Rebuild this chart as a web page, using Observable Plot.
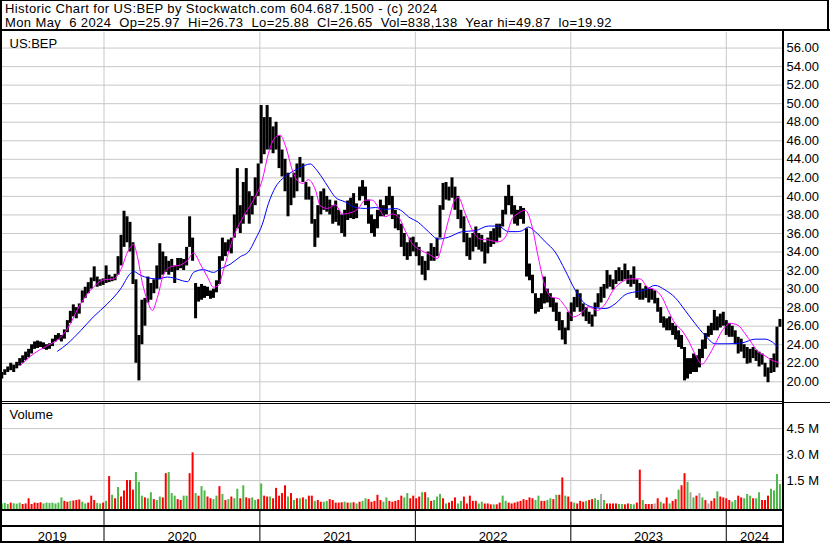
<!DOCTYPE html>
<html><head><meta charset="utf-8">
<script src="https://cdn.jsdelivr.net/npm/d3@7"></script>
<script src="https://cdn.jsdelivr.net/npm/@observablehq/plot@0.6"></script>
<style>
body{margin:0;background:#fff;}
#chart{position:relative;width:830px;height:543px;overflow:hidden;font-family:"Liberation Sans",Arial,sans-serif;color:#000;background:#fff;}
.ln{position:absolute;background:#000;}
.tx{position:absolute;font-size:13px;line-height:13px;letter-spacing:0.39px;white-space:pre;color:#000;}
.pl{position:absolute;left:0;}
.pl svg{max-width:none;}
</style></head>
<body><div id="chart"></div>
<script>
// ---------- data ----------
const title1 = "Historic Chart for US:BEP by Stockwatch.com 604.687.1500 - (c) 2024";
const title2 = "Mon May  6 2024  Op=25.97  Hi=26.73  Lo=25.88  Cl=26.65  Vol=838,138  Year hi=49.87  lo=19.92";
const symbol = "US:BEP";
const yearLabels = ["2019","2020","2021","2022","2023","2024"];
const priceTicks = [20,22,24,26,28,30,32,34,36,38,40,42,44,46,48,50,52,54,56];
const volTicks = [1.5,3.0,4.5];

// weekly low / high (one value per week, from the week of 2019-05-06 to 2024-05-06)
const lo = [20.3,20.7,21.0,21.2,21.0,21.4,21.7,22.0,22.3,22.6,
 23.0,23.5,23.6,23.7,23.5,23.4,23.5,23.8,24.3,24.5,
 24.3,24.6,25.3,26.3,27.0,26.8,27.3,28.5,29.0,29.5,
 30.0,30.8,30.2,30.3,30.4,30.6,30.7,30.8,30.9,31.5,
 32.5,34.5,35.0,34.0,30.5,22.0,20.1,24.0,26.0,28.5,
 28.8,29.5,30.0,31.0,31.5,31.8,31.5,31.8,30.6,32.0,
 32.2,32.0,32.5,34.5,33.0,26.8,28.6,28.8,29.0,29.2,
 28.9,29.0,29.6,30.5,33.0,33.5,34.0,33.8,35.5,36.5,
 36.0,37.0,38.0,37.0,38.0,39.0,40.0,43.5,44.5,45.0,
 45.0,44.6,45.0,43.0,42.1,40.5,37.8,39.0,39.8,40.5,
 42.0,41.5,39.6,39.6,37.0,34.5,35.5,38.0,38.5,38.3,
 38.0,37.0,37.2,36.8,36.0,35.6,37.4,37.6,37.5,37.6,
 39.5,40.0,39.0,37.0,36.0,35.6,36.5,37.8,37.8,38.0,
 39.0,37.5,36.5,36.3,34.5,33.5,33.1,33.5,34.0,33.5,
 32.5,31.5,30.9,32.0,33.0,33.0,33.5,35.5,38.5,39.6,
 39.5,39.8,38.5,37.5,36.5,35.0,33.5,33.1,34.0,34.5,
 34.2,34.0,32.7,33.8,34.5,34.8,35.0,35.5,36.7,38.0,
 39.0,38.0,37.0,36.8,37.5,37.0,31.3,30.9,29.5,27.3,
 27.5,27.8,28.4,28.5,28.0,27.5,26.5,25.5,24.5,24.0,
 25.5,26.5,27.5,28.0,27.5,27.0,26.5,26.2,25.9,27.0,
 28.0,28.5,29.0,30.0,30.2,29.9,30.5,30.8,30.8,31.0,
 30.5,30.2,30.5,29.0,28.8,28.8,29.0,28.5,28.8,28.4,
 27.5,26.3,25.8,25.5,25.5,25.0,24.5,23.7,23.5,20.1,
 20.3,20.8,21.0,21.0,21.5,22.5,23.5,24.8,25.0,25.5,
 25.5,25.8,26.0,25.0,24.8,24.8,24.0,23.0,23.2,22.5,
 21.9,22.0,22.5,22.2,21.6,21.8,20.5,19.9,20.9,21.0,
 21.5,25.88];
const hi = [21.0,21.3,21.6,22.0,21.8,22.1,22.5,22.8,23.2,23.5,
 24.0,24.3,24.4,24.3,24.2,24.0,24.1,24.6,25.0,25.2,
 25.0,25.6,26.6,27.6,28.3,28.0,28.4,29.8,30.2,30.7,
 31.2,32.4,31.3,31.0,31.1,32.5,31.5,31.3,31.6,33.5,
 35.8,38.4,37.8,37.2,35.0,31.0,25.0,28.8,29.0,31.3,
 30.6,31.0,32.5,34.9,34.0,33.5,33.0,33.2,32.5,33.3,
 33.3,33.2,34.5,37.8,35.5,30.6,30.2,30.5,30.3,30.2,
 29.8,30.0,30.9,33.5,35.5,35.0,35.3,35.5,38.0,43.0,
 39.0,41.5,43.0,40.5,40.0,42.0,43.5,49.8,48.5,49.8,
 48.5,47.5,48.0,46.5,45.0,44.0,42.5,42.0,42.5,43.5,
 44.2,43.5,41.5,41.0,40.0,37.5,39.0,40.5,40.8,40.0,
 39.6,39.0,39.5,38.5,38.0,38.5,39.5,39.8,40.3,39.2,
 41.0,41.7,41.0,39.6,38.0,37.5,38.5,39.6,39.0,40.0,
 41.0,40.0,38.5,38.0,37.0,36.0,35.0,35.5,35.6,35.0,
 34.5,33.5,33.0,34.0,34.9,34.5,35.5,39.0,41.4,41.5,
 41.0,42.0,41.0,40.0,38.5,37.8,36.0,35.5,36.0,36.7,
 36.0,35.8,35.0,35.5,36.2,36.5,37.0,37.0,38.5,40.0,
 41.2,40.0,39.0,38.5,38.9,38.7,36.5,32.7,31.5,29.5,
 29.0,29.5,31.3,30.0,29.5,29.0,28.5,27.5,26.6,25.8,
 27.5,28.5,29.1,29.9,29.5,28.4,28.0,27.5,27.2,28.5,
 29.5,30.2,30.5,32.0,31.5,31.0,32.0,32.3,32.0,32.7,
 32.0,31.5,32.4,31.0,30.6,30.0,30.3,30.0,30.0,29.8,
 29.0,28.0,27.0,26.8,27.0,26.3,26.0,25.5,25.0,23.7,
 22.5,22.5,23.0,22.8,23.5,24.5,25.2,26.0,26.3,27.7,
 27.0,27.3,27.5,26.6,26.3,26.0,25.5,24.8,24.6,24.0,
 23.7,23.5,23.7,23.4,23.2,23.0,22.0,21.5,22.5,23.0,
 25.9,26.73];

// weekly volume (millions) and bar colour: g = up, r = down, n = unchanged
const vol = [.15,.18,.12,.20,.16,.14,.20,.12,.15,.45,
 .12,.20,.18,.22,.15,.20,.18,.20,.15,.20,
 .50,.30,.25,.30,.32,.35,.38,.25,.15,.20,
 .60,.35,.18,.15,.20,.30,1.73,.65,.45,1.10,
 .55,.90,1.50,1.50,.95,1.96,1.40,.60,.50,.45,
 .80,.40,.35,.55,.50,1.90,1.96,.75,.60,.40,
 .35,.60,.60,1.90,3.10,.75,.60,1.15,.90,.55,
 .45,.40,.60,1.15,.70,.35,.40,.55,.45,1.00,
 .45,1.20,.50,.45,.50,.35,.40,1.30,.60,.55,
 .55,.45,1.05,.60,.75,1.20,.55,.75,.35,.45,
 .45,.50,.40,.60,.60,.30,.35,.25,.25,.30,
 .40,.35,.20,.20,.22,.25,.20,.20,.22,.15,
 .25,.30,.45,.40,.25,.30,.65,.35,.25,.50,
 .30,.25,.30,.35,.60,.50,.75,.45,.60,.45,
 .55,.80,.80,.50,.30,.35,.55,.70,.45,.15,
 .20,.30,.50,.15,.30,.55,.15,.60,.30,.30,
 .15,.25,.15,.15,.10,.10,.10,.20,.60,.30,
 .20,.15,.20,.25,.30,.40,.35,.50,.45,.35,
 .60,.30,.30,.35,.45,.40,.65,.65,1.65,.60,
 .55,.25,.20,.15,.30,.25,.30,.35,.40,.45,
 .35,.70,.35,.15,.15,.15,.15,.12,.12,.10,
 .15,.12,.10,.20,2.10,.35,.12,.12,.12,.15,
 .45,.25,.15,.50,.15,.30,.40,.95,1.20,1.90,
 1.40,.80,.50,.60,.75,.50,.35,.15,.30,.45,
 .85,.55,.50,.45,.35,.25,.35,.60,.50,.45,
 .70,.60,.45,.45,.80,.35,.35,.60,1.00,.90,
 1.85,1.27];
const volDir = ("gggrgggrrr"+"rrrrgggggg"+"grrgrrrggr"+"rrggrgrgrg"+"rrrrrgggrg"+
 "grggrrgggr"+"rggrrgrggr"+"rggrgrgrgg"+"rgrrggrgrr"+"grrrrrgrgr"+
 "grgrrgrrgg"+"rrrrrgrgrg"+"rggrrrrrgg"+"rrrrrggrrr"+"rgrgrgggrg"+
 "rrrggrrrrr"+"ggrrrgrrgg"+"rrrrrrrrrg"+"grrggrgrrg"+"rrgrrrgrrg"+
 "gngrrrrggr"+"rggrrgrrrn"+"rgrrgrrgrr"+"gngrngrnrr"+"grrrrggrrg"+
 "ggrggrrrgg"+"gg").split("");

// moving averages (position in weeks from the first week, value)
const ma50Week = [6.3,10.6,15.3,19,22,26.4,30.7,34.1,37.5,39.8,42.5,44.2,45.5,47.2,48.8,50.5,52.2,54.2,56.6,59.9,62.3,64.3,66.6,69,71,72.7,74.3,77.7,81,84.4,87.4,89.4,91.8,93.4,95.1,97.5,99.1,101.1,102.8,105.2,106.8,109.2,111.9,114.2,117.6,119.6,121.9,124.3,126.3,128.6,131,133,135.3,137.7,140.4,143.1,146.1,147.8,149.8,152.1,153.1,155.5,158.1,160.5,163.2,166.5,168.9,171.2,172.9,175.6,177.9,179.9,182.3,184.6,186.6,189,191.7,194,196.7,199.7,202.4,205.1,208.1,210.8,214.1,216.5,219.1,221.5,223.5,225.8,228.2,230.2,232.5,234.9,236.9,239.3,241.6,244.3,246.9,249.3,251.7,253.7,256,258.4,260.4];
const ma50 = [21.8,23.0,23.9,24.6,25.7,28.4,30.2,31.0,31.1,32.0,34.2,34.8,33.5,30.6,28.8,27.7,29.1,31.5,32.4,32.6,33.1,33.9,32.7,31.3,30.2,30.4,32.0,35.6,37.8,39.6,41.8,44.6,46.4,46.6,45.5,42.8,41.7,41.4,41.8,40.7,39.0,38.7,39.1,38.1,38.3,38.7,39.6,39.6,38.8,37.8,38.1,37.8,36.3,34.9,34.2,33.8,33.3,34.9,37.4,39.7,39.9,38.1,36.2,35.4,35.3,35.1,35.6,37.6,38.1,38.5,36.7,33.5,30.2,29.1,29.0,28.1,27.0,27.3,28.1,27.7,28.4,29.9,30.8,31.1,31.1,30.2,29.9,29.1,27.7,26.3,25.5,24.5,23.0,21.9,22.7,24.1,25.5,26.3,26.1,25.2,24.1,23.2,22.8,22.3,22.1];
const ma200Week = [18.7,22,26.4,30.7,35.4,39.8,43.2,44.2,46.5,49.2,52.2,55.6,57.6,60.6,62.3,64.3,67.6,71,73.3,76.7,80,82.7,85.1,87.4,89.4,91.8,94.1,96.1,99.5,103.5,105.2,107.5,109.5,111.9,115.2,118.6,121.9,125.3,128.6,132,134.3,136.4,139.7,143.1,146.4,149.8,154.5,158.8,163.2,166.5,169.9,172.9,174.6,176.6,178.9,182.3,185.6,189,192.3,195.7,199,202.4,205.7,209.1,212.4,215.8,219.1,222.5,225.8,229.2,232.5,235.9,239.3,243.6,248.3,252.7,256,258.4,260.4];
const ma200 = [23.3,24.1,25.5,27.0,28.4,30.0,31.7,31.9,31.5,31.2,31.1,31.3,31.2,30.9,30.8,31.8,32.1,31.8,32.2,32.7,33.5,34.0,35.4,37.0,39.2,41.0,41.9,42.4,43.0,43.5,43.0,42.0,41.0,39.9,39.4,38.8,38.7,38.8,38.6,38.7,38.4,37.8,37.2,36.2,35.4,35.6,36.2,36.3,36.8,36.8,36.2,36.2,36.3,36.7,36.2,35.1,34.0,32.0,29.9,28.4,28.0,27.9,28.4,29.4,29.7,29.9,30.4,29.9,29.1,27.7,26.3,25.0,24.1,24.1,24.2,24.6,24.6,24.3,23.7];

// ---------- build ----------
const FONT = '"Liberation Sans", Arial, sans-serif';
const chart = document.getElementById("chart");
const xDomain = [new Date("2019-05-03T00:00Z"), new Date("2024-05-12T00:00Z")];
const weeks = d3.utcMonday.range(new Date("2019-05-06T00:00Z"), new Date("2024-05-07T00:00Z"));
const rows = weeks.map((d, i) => ({date: d, lo: lo[i], hi: hi[i], vol: vol[i], dir: volDir[i]}));
const wk = w => new Date(+weeks[0] + w * 7 * 864e5);
const ma50Rows = ma50Week.map((w, i) => ({date: wk(w), v: ma50[i]}));
const ma200Rows = ma200Week.map((w, i) => ({date: wk(w), v: ma200[i]}));
const yearStarts = yearLabels.slice(1).map(y => new Date(Date.UTC(+y, 0, 1)));
const yearMid = yearLabels.map(y => {
  const a = Math.max(+xDomain[0], Date.UTC(+y, 0, 1));
  const b = Math.min(+xDomain[1], Date.UTC(+y + 1, 0, 1));
  return {date: new Date((a + b) / 2), label: y};
});
const volColor = {g: "#4cb848", r: "#ff0000", n: "#a8a8a8"};
const baseStyle = {fontFamily: FONT, fontSize: "13px", background: "transparent", color: "#000", overflow: "visible"};

function place(node, top) {
  const d = document.createElement("div");
  d.className = "pl"; d.style.top = top + "px";
  d.appendChild(node); chart.appendChild(d);
}
function line(x, y, w, h) {
  const d = document.createElement("div");
  d.className = "ln";
  Object.assign(d.style, {left: x + "px", top: y + "px", width: w + "px", height: h + "px"});
  chart.appendChild(d);
}
function text(s, x, y) {
  const d = document.createElement("div");
  d.className = "tx"; d.textContent = s;
  Object.assign(d.style, {left: x + "px", top: y + "px"});
  chart.appendChild(d);
}

// price panel
place(Plot.plot({
  width: 830, height: 369, marginLeft: 0, marginRight: 48, marginTop: 0, marginBottom: 0,
  style: baseStyle,
  x: {type: "utc", domain: xDomain, axis: null},
  y: {domain: [17.875, 57.68], axis: "right", ticks: priceTicks, tickSize: 0, tickPadding: 4,
      tickFormat: d => d.toFixed(2), label: null},
  marks: [
    Plot.ruleY(priceTicks, {stroke: "#c8c8c8"}),
    Plot.ruleX(yearStarts, {stroke: "#c8c8c8"}),
    Plot.ruleX(rows, {x: "date", y1: "lo", y2: "hi", stroke: "#000", strokeWidth: 3}),
    Plot.line(ma200Rows, {x: "date", y: "v", stroke: "#0000ff", strokeWidth: 1, curve: "monotone-x"}),
    Plot.line(ma50Rows, {x: "date", y: "v", stroke: "#ff00ff", strokeWidth: 1, curve: "monotone-x"}),
    Plot.text([symbol], {frameAnchor: "top-left", dx: 9, dy: 15, lineAnchor: "bottom", textAnchor: "start", fill: "#000"})
  ]
}), 32);

// volume panel
place(Plot.plot({
  width: 830, height: 105, marginLeft: 0, marginRight: 48, marginTop: 0, marginBottom: 0,
  style: baseStyle,
  x: {type: "utc", domain: xDomain, axis: null},
  y: {domain: [-0.17, 5.89], axis: "right", ticks: volTicks, tickSize: 0, tickPadding: 4,
      tickFormat: d => d.toFixed(1) + " M", label: null},
  marks: [
    Plot.ruleY(volTicks, {stroke: "#c8c8c8"}),
    Plot.ruleX(yearStarts, {stroke: "#c8c8c8"}),
    Plot.ruleX(rows, {x: "date", y1: -0.17, y2: "vol", stroke: d => volColor[d.dir], strokeWidth: 2}),
    Plot.text(["Volume"], {frameAnchor: "top-left", dx: 9, dy: 14, lineAnchor: "bottom", textAnchor: "start", fill: "#000"})
  ]
}), 404);

// time axis strip
place(Plot.plot({
  width: 830, height: 32, marginLeft: 0, marginRight: 48, marginTop: 0, marginBottom: 0,
  style: baseStyle,
  x: {type: "utc", domain: xDomain, axis: null},
  marks: [
    Plot.ruleX(yearStarts, {stroke: "#000"}),
    Plot.text(yearMid, {x: "date", text: "label", frameAnchor: "bottom", dy: -3, lineAnchor: "bottom", fill: "#000"})
  ]
}), 511);

// header and frame lines
text(title1, 5, 1.5);
text(title2, 5, 16);
line(0, 0, 829, 1);       // header top
line(827, 0, 2, 31);      // header right
line(0, 29, 830, 2);      // header bottom
line(0, 0, 2, 543);       // left border
line(782, 31, 2, 512);    // right axis separator
line(0, 401, 782, 1);     // price panel bottom
line(0, 403, 782, 1);     // volume panel top
line(784, 402, 46, 1);    // right column separator
line(0, 509, 784, 2);     // volume panel bottom
line(0, 525, 784, 2);     // axis strip middle
line(0, 541, 784, 2);     // bottom
</script></body></html>
